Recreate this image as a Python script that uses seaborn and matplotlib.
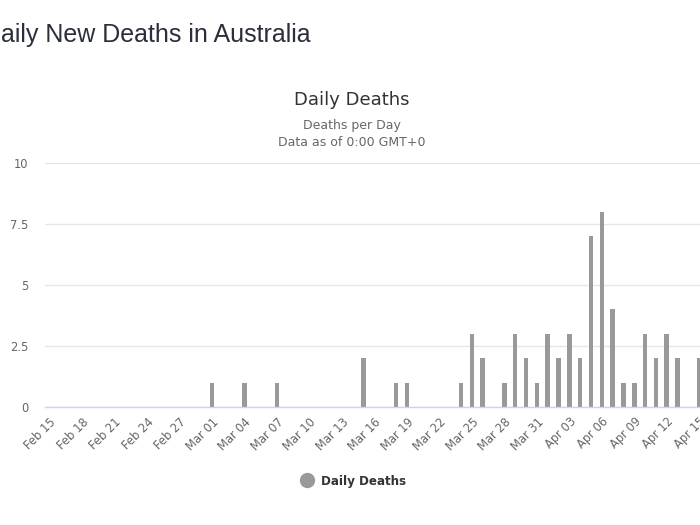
import numpy as np
import pandas as pd
import matplotlib
matplotlib.use('Agg')
import matplotlib.pyplot as plt
from matplotlib.lines import Line2D
import seaborn as sns

# Daily deaths, Feb 15 to Apr 15
dates = pd.date_range('2020-02-15', '2020-04-15', freq='D')
date_labels = [d.strftime('%b %d') for d in dates]
deaths = [0] * 15 + [
    1, 0, 0, 1, 0, 0, 1, 0, 0, 0, 0, 0, 0, 0, 2,   # Mar 01 - Mar 15
    0, 0, 1, 1, 0, 0, 0, 0, 1, 3, 2, 0, 1, 3, 2,   # Mar 16 - Mar 30
    1, 3, 2, 3, 2, 7, 8, 4, 1, 1, 3, 2, 3, 2, 0,   # Mar 31 - Apr 14
    2,                                             # Apr 15
]
ytick_vals = [0, 2.5, 5, 7.5, 10]
ytick_labels = ['0', '2.5', '5', '7.5', '10']

df = pd.DataFrame({'Date': date_labels, 'Deaths': deaths})

sns.set_style('white')
plt.rcParams['font.family'] = ['DejaVu Sans']

fig = plt.figure(figsize=(7, 5.25), dpi=100)
# axes run past the right edge, like the cropped screenshot
ax = fig.add_axes([0.0646, 0.2248, 1.089, 0.4648])
ax.set_axisbelow(True)

sns.barplot(data=df, x='Date', y='Deaths', color='#999999', width=0.42,
            saturation=1, linewidth=0, ax=ax)

ax.set_xlim(-0.4, 70)
ax.set_ylim(0, 10)
ax.set_yticks(ytick_vals)
ax.set_yticklabels(ytick_labels)
ax.yaxis.grid(True, color='#e6e6e6', linewidth=1)
ax.xaxis.grid(False)
ax.set_xlabel('')
ax.set_ylabel('')

tick_idx = list(range(0, len(date_labels), 3))
ax.set_xticks(tick_idx)
ax.set_xticklabels([date_labels[i] for i in tick_idx], rotation=45,
                   ha='right', rotation_mode='anchor')
ax.tick_params(axis='x', length=0, pad=6, labelsize=8.3, labelcolor='#666666')
ax.tick_params(axis='y', length=0, pad=12, labelsize=8.3, labelcolor='#666666')

for side in ['top', 'right', 'left']:
    ax.spines[side].set_visible(False)
ax.spines['bottom'].set_color('#ccd6eb')
ax.spines['bottom'].set_linewidth(1)

# page heading, cut off at the left edge
fig.text(-0.024, 1 - 35 / 525, 'Daily New Deaths in Australia', ha='left',
         va='center', fontsize=18, color='#2b2e3b', family='Liberation Sans')

fig.text(0.503, 1 - 100 / 525, 'Daily Deaths', ha='center', va='center',
         fontsize=13, color='#333333')
fig.text(0.503, 1 - 125 / 525, 'Deaths per Day', ha='center', va='center',
         fontsize=9, color='#666666')
fig.text(0.503, 1 - 142 / 525, 'Data as of 0:00 GMT+0', ha='center', va='center',
         fontsize=9, color='#666666')

handle = Line2D([0], [0], marker='o', color='none', markerfacecolor='#999999',
                markeredgecolor='#999999', markersize=10, label='Daily Deaths')
fig.legend(handles=[handle], loc='center', bbox_to_anchor=(0.506, 1 - 481 / 525),
           frameon=False, handlelength=0.8, handletextpad=0.8,
           prop={'weight': 'bold', 'size': 8.6}, labelcolor='#333333')

fig.savefig('out.png', dpi=100)
